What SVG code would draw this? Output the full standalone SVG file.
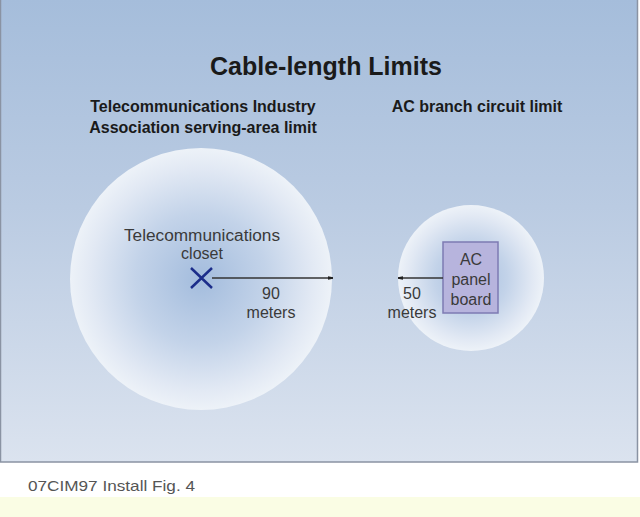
<svg xmlns="http://www.w3.org/2000/svg" width="640" height="517" viewBox="0 0 640 517">
<defs>
<linearGradient id="bg" x1="0" y1="0" x2="0" y2="1">
<stop offset="0" stop-color="#a5bddb"/>
<stop offset="0.45" stop-color="#bacbe2"/>
<stop offset="1" stop-color="#dbe3ef"/>
</linearGradient>
<radialGradient id="glow">
<stop offset="0" stop-color="#a3bcdd"/>
<stop offset="0.5" stop-color="#c3d3e9"/>
<stop offset="0.85" stop-color="#e2e9f4"/>
<stop offset="1" stop-color="#edf2f8"/>
</radialGradient>
<marker id="tip" viewBox="0 0 6 6" refX="6" refY="3" markerWidth="5" markerHeight="5" orient="auto-start-reverse" markerUnits="userSpaceOnUse">
<path d="M0,1 L6,2 L6,4 L0,5 Z" fill="#222"/>
</marker>
<style>
.t{font-family:"Liberation Sans",Arial,sans-serif;fill:#1a1a1a;text-anchor:middle}
.b{font-weight:bold}
.n{font-family:"Liberation Sans",Arial,sans-serif;fill:#3a3a3a;text-anchor:middle;font-size:16px}
.conn{stroke:#333;stroke-width:1.5;fill:none;marker-end:url(#tip)}
</style>
</defs>
<rect x="0" y="0" width="640" height="517" fill="#ffffff"/>
<rect x="0" y="497" width="640" height="20" fill="#fafde4"/>
<rect x="0.5" y="-1" width="637" height="463" fill="url(#bg)" stroke="#8a93a3" stroke-width="1.5"/>
<text class="t b" x="326" y="75" font-size="25">Cable-length Limits</text>
<text class="t b" x="203" y="112" font-size="16">Telecommunications Industry</text>
<text class="t b" x="203" y="133" font-size="16">Association serving-area limit</text>
<text class="t b" x="477" y="112" font-size="16">AC branch circuit limit</text>
<g id="tia-area">
<circle cx="201" cy="279" r="131" fill="url(#glow)"/>
</g>
<g id="ac-area">
<circle cx="471" cy="278" r="73" fill="url(#glow)"/>
</g>
<g id="closet">
<text class="n" x="202" y="241" textLength="156" lengthAdjust="spacingAndGlyphs">Telecommunications</text>
<text class="n" x="202" y="259">closet</text>
<path d="M191,268 L212,288 M212,268 L191,288" stroke="#1c2d8a" stroke-width="2.5" fill="none"/>
</g>
<g id="panel">
<rect x="443" y="242" width="55" height="71" fill="#b7b4dd" stroke="#7e7bb3" stroke-width="1.5"/>
<text class="n" x="471" y="265">AC</text>
<text class="n" x="471" y="285">panel</text>
<text class="n" x="471" y="305">board</text>
</g>
<g id="connectors">
<line class="conn" x1="212" y1="278" x2="333" y2="278"/>
<line class="conn" x1="443" y1="278" x2="398" y2="278"/>
</g>
<g id="labels">
<text class="n" x="271" y="299">90</text>
<text class="n" x="271" y="318">meters</text>
<text class="n" x="412" y="299">50</text>
<text class="n" x="412" y="318">meters</text>
</g>
<text x="28" y="491" font-family="'Liberation Sans',Arial,sans-serif" font-size="15" fill="#555" textLength="167" lengthAdjust="spacingAndGlyphs">07CIM97 Install Fig. 4</text>
</svg>
